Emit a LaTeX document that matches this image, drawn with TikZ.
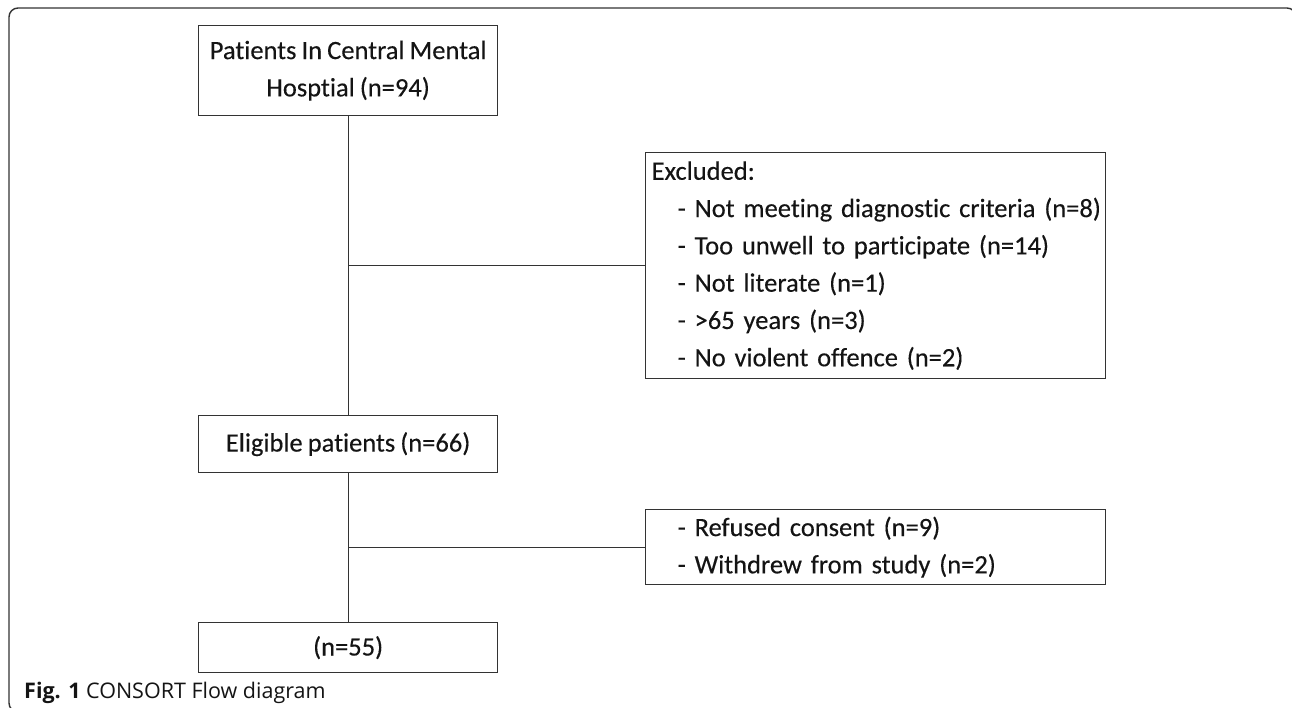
\documentclass[tikz,border=0pt]{standalone}
\usepackage{fontspec}
\setmainfont{Carlito}[Ligatures={NoCommon}, FakeBold=0.3, WordSpace=0.85]
\newfontfamily\capfont{Open Sans}
\usepackage{xcolor}
\definecolor{dgray}{rgb}{0.2,0.2,0.2}
\definecolor{ink}{rgb}{0.08,0.08,0.08}
\newcommand{\dashitem}[1]{\mbox{\hspace*{26pt}\makebox[17pt][l]{-}#1}}

\begin{document}
\begin{tikzpicture}[x=1pt, y=-1pt,
	flowbox/.style={draw=dgray, line width=1.3pt, text=ink, inner sep=0pt, anchor=north west, font=\fontsize{26.5}{37.3}\selectfont},
	centrebox/.style={flowbox, minimum width=299pt, align=center},
	listbox/.style={flowbox, minimum width=460pt, text width=448pt, inner xsep=6pt, align=left}]
			\useasboundingbox (0,0) rectangle (1292,708);
			\clip (0,0) rectangle (1292,708);
			\draw[dgray, line width=1.4pt, rounded corners=9pt] (9,8) rectangle (1296,712);
			% flow boxes
			\node[centrebox, minimum height=90pt] (hosp) at (198,25) {Patients In Central Mental\\Hosptial (n=94)};
			\node[listbox, minimum height=226pt] (excl) at (645,152) {Excluded:\\
				\dashitem{Not meeting diagnostic criteria (n=8)}\\
				\dashitem{Too unwell to participate (n=14)}\\
				\dashitem{Not literate (n=1)}\\
				\dashitem{>65 years (n=3)}\\
				\dashitem{No violent offence (n=2)}};
			\node[centrebox, minimum height=57pt] (elig) at (198,415) {Eligible patients (n=66)};
			\node[listbox, minimum height=75pt] (refd) at (645,509) {\dashitem{Refused consent (n=9)}\\
				\dashitem{Withdrew from study (n=2)}};
			\node[centrebox, minimum height=50pt] (final) at (198,622) {(n=55)};
			% connectors
			\draw[dgray, line width=1.3pt] (hosp.south) -- (elig.north);
			\draw[dgray, line width=1.3pt] (hosp.south |- excl.west) -- (excl.west);
			\draw[dgray, line width=1.3pt] (elig.south) -- (final.north);
			\draw[dgray, line width=1.3pt] (elig.south |- refd.west) -- (refd.west);
			\node[anchor=base west, text=ink, inner sep=0pt, font=\capfont\fontsize{21.5}{24}\selectfont] (caption) at (24,698) {\textbf{Fig. 1} CONSORT Flow diagram};
		\end{tikzpicture}
\end{document}
